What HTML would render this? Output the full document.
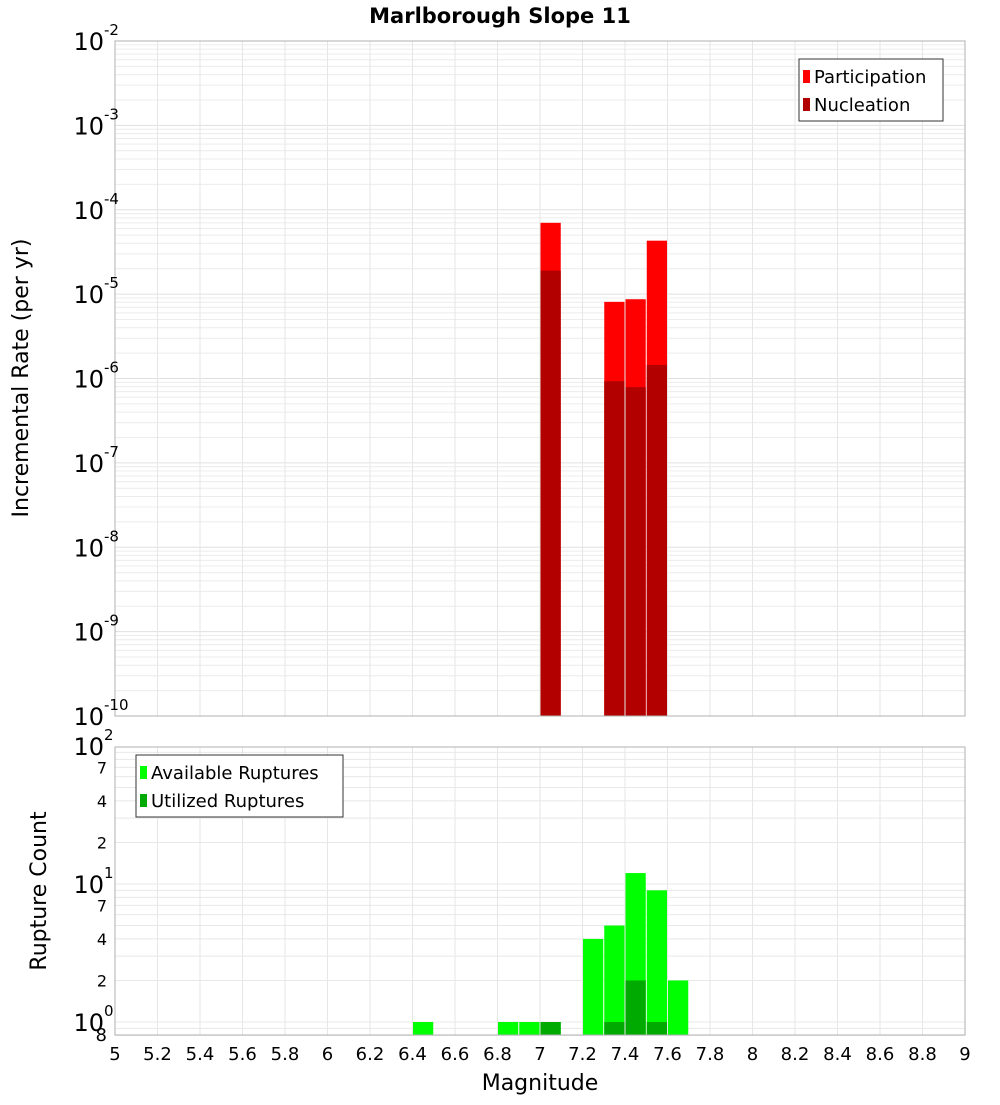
<!DOCTYPE html>
<html><head><meta charset="utf-8"><style>
body{margin:0;background:#fff;font-family:"Liberation Sans","DejaVu Sans",sans-serif}
svg text{font-family:"DejaVu Sans","Liberation Sans",sans-serif}
</style></head><body>
<svg id="c" width="1000" height="1100" xmlns="http://www.w3.org/2000/svg">
<text x="500" y="23" text-anchor="middle" font-size="21" font-weight="bold">Marlborough Slope 11</text>
<text transform="translate(28,378) rotate(-90)" text-anchor="middle" font-size="22">Incremental Rate (per yr)</text>
<text transform="translate(46,891) rotate(-90)" text-anchor="middle" font-size="22">Rupture Count</text>
<text x="540" y="1090" text-anchor="middle" font-size="22">Magnitude</text>
<g id="topPlot"></g><g id="botPlot"></g>
</svg>
<script>
const mags=[6.45,6.85,6.95,7.05,7.25,7.35,7.45,7.55,7.65];
const partMags=[7.05,7.35,7.45,7.55];
const participation=[7e-5,8.1e-6,8.7e-6,4.3e-5];
const nucleation=[1.9e-5,9.3e-7,7.9e-7,1.45e-6];
const available=[1,1,1,1,4,5,12,9,2];
const utilMags=[7.05,7.35,7.45,7.55];
const utilized=[1,1,2,1];
const xTicks=[5,5.2,5.4,5.6,5.8,6,6.2,6.4,6.6,6.8,7,7.2,7.4,7.6,7.8,8,8.2,8.4,8.6,8.8,9];
const topExp=[-2,-3,-4,-5,-6,-7,-8,-9,-10];
const botMinorLabels=[2,4,7];

const NS="http://www.w3.org/2000/svg";
const L=115,R=965;
const xs=m=>L+(m-5)/4*(R-L);
const yT=v=>41+(-2-Math.log10(v))*(675/8);
const yB=v=>1022-Math.log10(v)*138;
function el(p,t,a){const e=document.createElementNS(NS,t);for(const k in a)e.setAttribute(k,a[k]);p.appendChild(e);return e;}
const topG=document.getElementById('topPlot'),botG=document.getElementById('botPlot');

for(let d=-10;d<-2;d++)for(let k=1;k<10;k++){const yy=yT(k*Math.pow(10,d));const g=el(topG,'line',{x1:L,x2:R,y1:yy,y2:yy,stroke:k==1?'#e0e0e0':'#ececec','stroke-width':1});

}
for(let d=-1;d<2;d++)for(let k=1;k<10;k++){const v=k*Math.pow(10,d);if(v<0.8)continue;const yy=yB(v);const g=el(botG,'line',{x1:L,x2:R,y1:yy,y2:yy,stroke:'#e8e8e8','stroke-width':1});

}
xTicks.forEach(t=>{[[41,716,topG],[747,1035,botG]].forEach(([a,b,p])=>{const g=el(p,'line',{x1:xs(t),x2:xs(t),y1:a,y2:b,stroke:'#e6e6e6'});

});});

const bw=(R-L)/40;
function bar(p,m,v,yf,base,col,name){const y0=yf(v);const r=el(p,'rect',{x:xs(m)-bw/2+0.5,y:y0,width:bw-1,height:base-y0,fill:col});

}
partMags.forEach((m,i)=>bar(topG,m,participation[i],yT,716,'#ff0000','participation-bar'));
partMags.forEach((m,i)=>bar(topG,m,nucleation[i],yT,716,'#b20000','nucleation-bar'));
mags.forEach((m,i)=>bar(botG,m,available[i],yB,1035,'#00ff00','available-bar'));
utilMags.forEach((m,i)=>bar(botG,m,utilized[i],yB,1035,'#00aa00','utilized-bar'));

[[41,716,topG,'top-plot-frame'],[747,1035,botG,'bottom-plot-frame']].forEach(([a,b,p,n])=>{const r=el(p,'rect',{x:L,y:a,width:R-L,height:b-a,fill:'none',stroke:'#b0b0b0'});

});

topExp.forEach(e=>{const t=el(topG,'text',{x:104,y:yT(Math.pow(10,e))+9,'text-anchor':'end','font-size':24});t.textContent='10';


const s=el(topG,'text',{x:104,y:yT(Math.pow(10,e))-6,'font-size':15});s.textContent=String(e);

});
[0,1,2].forEach(e=>{const yy=yB(Math.pow(10,e));const t=el(botG,'text',{x:104,y:yy+9,'text-anchor':'end','font-size':24});t.textContent='10';


const s=el(botG,'text',{x:104,y:yy-6,'font-size':15});s.textContent=String(e);

});
[0,1].forEach(d=>botMinorLabels.forEach(k=>{const t=el(botG,'text',{x:107,y:yB(k*Math.pow(10,d))+6,'text-anchor':'end','font-size':16});t.textContent=String(k);

}));
{const t=el(botG,'text',{x:107,y:1041,'text-anchor':'end','font-size':18});t.textContent='8';

}
xTicks.forEach(m=>{const t=el(botG,'text',{x:xs(m),y:1060,'text-anchor':'middle','font-size':18});t.textContent=String(m);

});

function legend(p,x0,y0,w,items,name){const g=el(p,'g',{});


el(g,'rect',{x:x0,y:y0,width:w,height:items.length*28+6,fill:'#fff',stroke:'#333'});
items.forEach(([c,l],i)=>{el(g,'rect',{x:x0+4,y:y0+11+i*28,width:7,height:13,fill:c});
const t=el(g,'text',{x:x0+15,y:y0+24+i*28,'font-size':18});t.textContent=l;

});}
legend(topG,799,59,144,[['#ff0000','Participation'],['#b20000','Nucleation']],'top-legend');
legend(botG,136,755,207,[['#00ff00','Available Ruptures'],['#00aa00','Utilized Ruptures']],'bottom-legend');
</script>
</body></html>
